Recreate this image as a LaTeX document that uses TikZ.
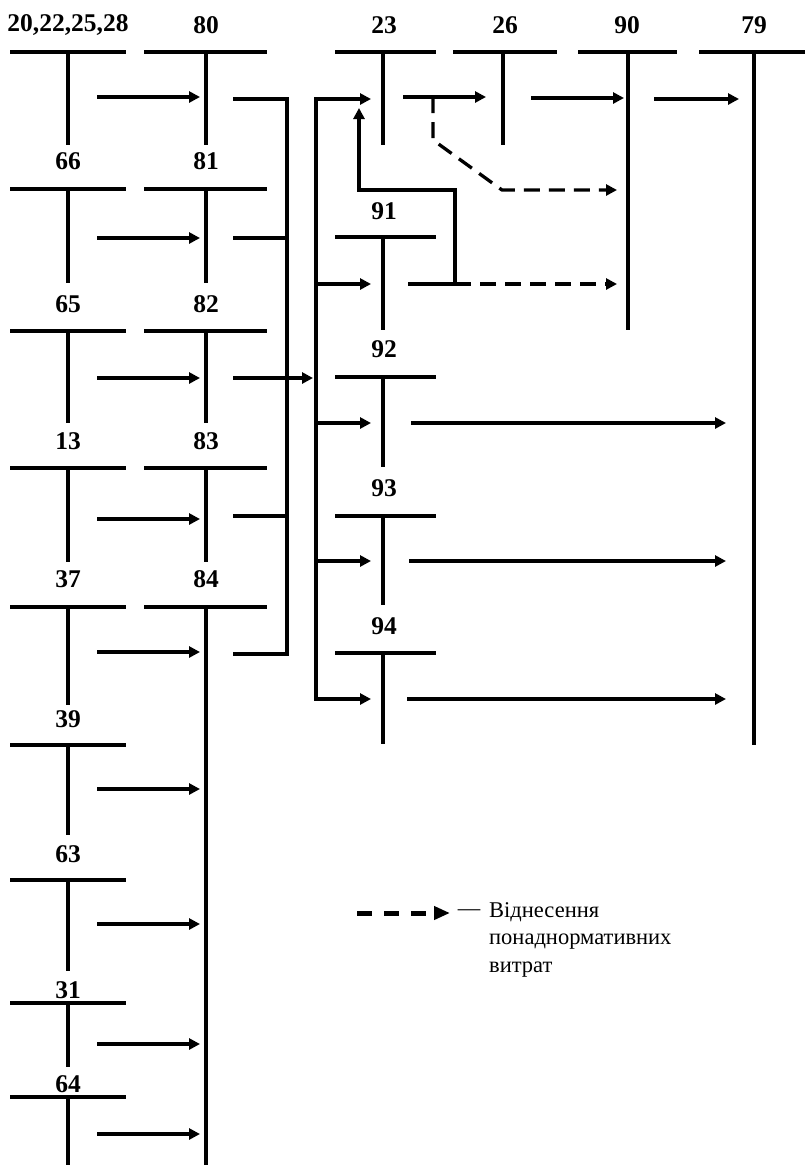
\documentclass[tikz,border=0pt]{standalone}
\usepackage{fontspec}
\setmainfont{Liberation Serif}
\usetikzlibrary{arrows.meta}

\tikzset{
  bar/.style={line width=3.3pt},
  flow/.style={line width=3.3pt,-{Triangle[length=11pt,width=11pt]}},
  extra/.style={flow,dash pattern=on 16pt off 9pt},
  num/.style={font=\bfseries\fontsize{25.5}{25.5}\selectfont,inner sep=0pt},
  legtext/.style={font=\fontsize{22.5}{27.5}\selectfont,inner sep=0pt},
}

\begin{document}
\begin{tikzpicture}[x=1pt,y=-1pt]
    \useasboundingbox (0,0) rectangle (805,1165);

    % first column of accounts
    \foreach \n/\lab/\yl/\yb/\ye/\ya in {a1/{20,22,25,28}/25/52/145/97, a2/66/161/189/283/238,
        a3/65/304/331/423/378, a4/13/441/468/562/519, a5/37/579/607/705/652,
        a6/39/719/745/835/789, a7/63/854/880/971/924, a8/31/990/1003/1067/1044,
        a9/64/1084/1097/1165/1134}
    {
        \node[num] (\n) at (68,\yl) {\lab};
        \draw[bar] (10,\yb) -- (126,\yb) (68,\yb) -- (68,\ye);
        \draw[flow] (97,\ya) -- (200,\ya);
    }

    % second column
    \foreach \n/\lab/\yl/\yb/\ye in {b1/80/25/52/145, b2/81/161/189/283,
        b3/82/304/331/423, b4/83/441/468/562, b5/84/579/607/1165}
    {
        \node[num] (\n) at (206,\yl) {\lab};
        \draw[bar] (144,\yb) -- (267,\yb) (206,\yb) -- (206,\ye);
    }

    % gathering
    \draw[bar] (233,99) -- (287,99) -- (287,654) -- (233,654);
    \draw[bar] (233,238) -- (287,238) (233,516) -- (287,516);
    \draw[flow] (233,378) -- (313,378);
    \draw[bar, line cap=rect] (316,99) -- (316,699);
    \foreach \y in {99,284,423,561,699}
        \draw[flow] (316,\y) -- (371,\y);

    % third column
    \foreach \n/\lab/\yl/\yb/\ye in {c0/23/25/52/145, c1/91/211/237/330,
        c2/92/349/377/467, c3/93/488/516/605, c4/94/626/653/744}
    {
        \node[num] (\n) at (384,\yl) {\lab};
        \draw[bar] (335,\yb) -- (436,\yb) (383,\yb) -- (383,\ye);
    }
    \draw[flow] (411,423) -- (726,423);
    \draw[flow] (409,561) -- (726,561);
    \draw[flow] (407,699) -- (726,699);

    % top row
    \node[num] (d1) at (505,25) {26};
    \draw[bar] (453,52) -- (557,52) (503,52) -- (503,145);
    \node[num] (d2) at (627,25) {90};
    \draw[bar] (578,52) -- (677,52) (628,52) -- (628,330);
    \node[num] (d3) at (754,25) {79};
    \draw[bar] (699,52) -- (805,52) (754,52) -- (754,745);

    \draw[flow] (403,97) -- (486,97);
    \draw[flow] (531,98) -- (624,98);
    \draw[flow] (654,99) -- (739,99);

    % excess costs
    \draw[extra] (433,97) -- (433,140) -- (502,190) -- (617,190);
    \draw[bar] (408,284) -- (455,284);
    \draw[extra] (455,284) -- (617,284);
    \draw[flow] (455,284) -- (455,190) -- (359,190) -- (359,108);

    % legend
    \draw[line width=5pt, dash pattern=on 15pt off 12pt,
        -{Triangle[length=16pt,width=13pt]}] (357,913) -- (450,913);
    \node[legtext] (dash) at (469,913) {---};
    \node[legtext, anchor=north west, align=left] (legend) at (489,902)
        {Віднесення\\понаднормативних\\витрат};
\end{tikzpicture}
\end{document}
